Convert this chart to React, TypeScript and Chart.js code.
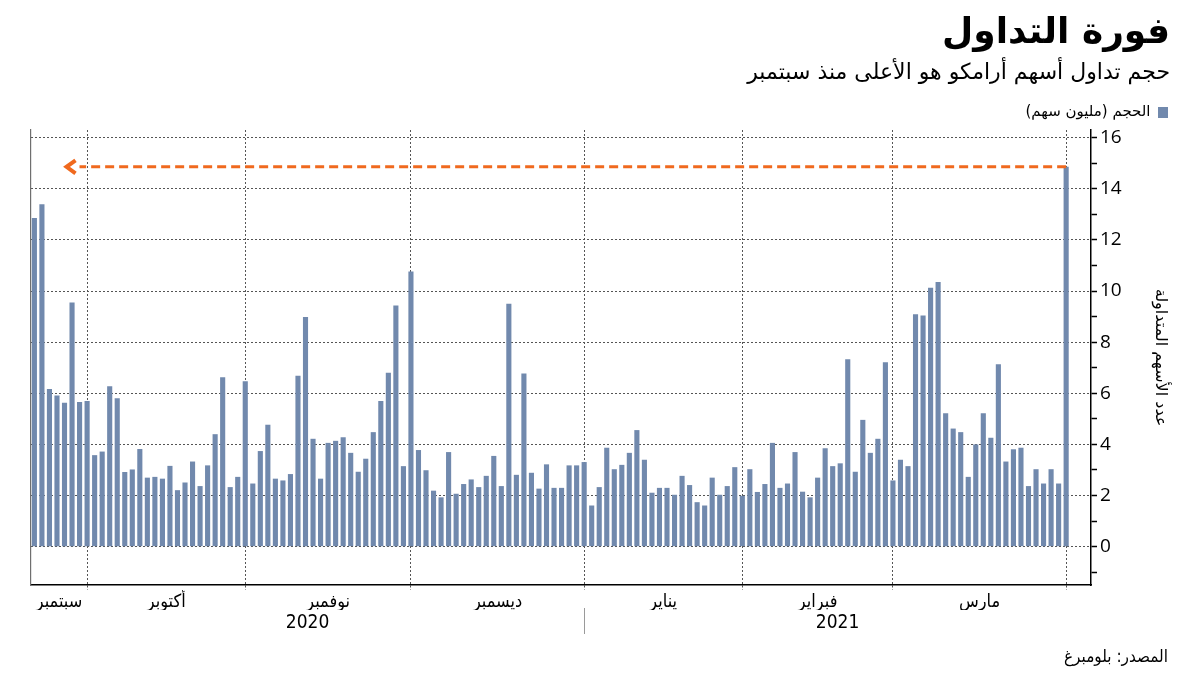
import React, { useEffect, useRef } from "react";
import { Chart, registerables } from "chart.js";

Chart.register(...registerables);

// Daily trading volume of Aramco shares (million shares), one value per trading day,
// from late September 2020 to 1 April 2021.
const VOLUMES: number[] = [
  12.86, 13.4, 6.17, 5.91, 5.63, 9.55, 5.66,
  5.7, 3.58, 3.72, 6.28, 5.81, 2.92, 3.02, 3.82, 2.7, 2.73, 2.66, 3.16, 2.21, 2.51, 3.33, 2.37, 3.18, 4.4, 6.63, 2.33, 2.73,
  6.47, 2.47, 3.74, 4.77, 2.66, 2.59, 2.84, 6.69, 8.98, 4.22, 2.66, 4.06, 4.14, 4.28, 3.67, 2.93, 3.44, 4.48, 5.7, 6.8, 9.43, 3.15,
  10.76, 3.78, 2.99, 2.19, 1.93, 3.7, 2.07, 2.45, 2.63, 2.33, 2.77, 3.55, 2.37, 9.5, 2.81, 6.77, 2.89, 2.27, 3.22, 2.3, 2.3, 3.18, 3.18,
  3.31, 1.61, 2.33, 3.87, 3.03, 3.2, 3.67, 4.56, 3.4, 2.11, 2.3, 2.3, 2.03, 2.77, 2.41, 1.74, 1.61, 2.7, 2.03, 2.37, 3.11,
  1.99, 3.03, 2.14, 2.45, 4.06, 2.3, 2.47, 3.7, 2.15, 1.93, 2.7, 3.85, 3.15, 3.26, 7.33, 2.93, 4.96, 3.67, 4.22, 7.21,
  2.59, 3.4, 3.15, 9.09, 9.04, 10.13, 10.35, 5.22, 4.62, 4.48, 2.73, 4.0, 5.22, 4.26, 7.14, 3.33, 3.81, 3.87, 2.37, 3.03, 2.47, 3.03, 2.47,
  14.86,
];

const MONTH_LABELS: string[] = ["سبتمبر", "أكتوبر", "نوفمبر", "ديسمبر", "يناير", "فبراير", "مارس"];
// index of the first trading day of Oct, Nov, Dec, Jan, Feb, Mar, Apr
const MONTH_STARTS: number[] = [7, 28, 50, 73, 94, 114, 137];
const YEAR_LABELS: string[] = ["2020", "2021"];
const YEAR_START_INDEX = 73;

const Y_TICKS: number[] = [-1, 0, 1, 2, 3, 4, 5, 6, 7, 8, 9, 10, 11, 12, 13, 14, 15, 16];
const Y_LABELED: number[] = [0, 2, 4, 6, 8, 10, 12, 14, 16];

const X_MIN = -0.45;
const X_MAX = 140.3;
const Y_MIN = -1.5;
const Y_MAX = 16.3;
const ARROW_TIP_INDEX = 4;

const TITLE = "فورة التداول";
const SUBTITLE = "حجم تداول أسهم أرامكو هو الأعلى منذ سبتمبر";
const SERIES_LABEL = "الحجم (مليون سهم)";
const Y_TITLE = "عدد الأسهم المتداولة";
const SOURCE = "المصدر: بلومبرغ";

const BAR_COLOR = "#7189AD";
const ARROW_COLOR = "#F0691E";
const AR_FONT = "'DejaVu Sans', sans-serif";
const AR_COND = "'DejaVu Sans Condensed', 'DejaVu Sans', sans-serif";

const monthBounds = [X_MIN, ...MONTH_STARTS];
const MONTH_POS = MONTH_LABELS.map((_, i) => (monthBounds[i] + monthBounds[i + 1]) / 2);
const YEAR_POS = [(X_MIN + YEAR_START_INDEX) / 2, (YEAR_START_INDEX + X_MAX) / 2];

const overlayPlugin = {
  id: "overlay",
  afterDatasetsDraw(chart: any) {
    const { ctx, scales } = chart;
    const x = scales.x;
    const y = scales.y;
    const last = VOLUMES.length - 1;
    const py = y.getPixelForValue(VOLUMES[last]);
    const x0 = x.getPixelForValue(last);
    const x1 = x.getPixelForValue(ARROW_TIP_INDEX);
    ctx.save();
    ctx.strokeStyle = ARROW_COLOR;
    ctx.lineWidth = 3;
    ctx.setLineDash([9, 5]);
    ctx.beginPath();
    ctx.moveTo(x0, py);
    ctx.lineTo(x1 + 15, py);
    ctx.stroke();
    ctx.setLineDash([]);
    ctx.lineWidth = 4;
    ctx.lineJoin = "miter";
    ctx.beginPath();
    ctx.moveTo(x1 + 11, py - 6.5);
    ctx.lineTo(x1 + 2, py);
    ctx.lineTo(x1 + 11, py + 6.5);
    ctx.stroke();
    ctx.restore();
  },
  afterDraw(chart: any) {
    const { ctx, scales } = chart;
    const xy = scales.xy;
    const px = Math.round(scales.x.getPixelForValue(YEAR_START_INDEX)) + 0.5;
    ctx.save();
    ctx.strokeStyle = "#9a9a9a";
    ctx.lineWidth = 1;
    ctx.beginPath();
    ctx.moveTo(px, xy.top - 2);
    ctx.lineTo(px, xy.bottom);
    ctx.stroke();
    ctx.restore();
  },
};

export default function App() {
  const canvasRef = useRef<HTMLCanvasElement | null>(null);

  useEffect(() => {
    if (!canvasRef.current) return;
    Chart.defaults.font.family = AR_FONT;
    const chart = new Chart(canvasRef.current, {
      type: "bar",
      data: {
        datasets: [
          {
            label: SERIES_LABEL,
            data: VOLUMES.map((v, i) => ({ x: i, y: v })),
            backgroundColor: BAR_COLOR,
            borderWidth: 0,
            barPercentage: 0.68,
            categoryPercentage: 1,
            xAxisID: "x",
            yAxisID: "y",
          },
        ],
      },
      plugins: [overlayPlugin],
      options: {
        animation: false,
        responsive: true,
        maintainAspectRatio: false,
        layout: { padding: { left: 31, right: 29, top: 102, bottom: 41 } },
        plugins: {
          legend: {
            position: "top",
            align: "start",
            rtl: true,
            textDirection: "rtl",
            labels: {
              boxWidth: 10,
              boxHeight: 11,
              padding: 3,
              color: "#000",
              font: { family: AR_FONT, size: 15 },
            },
          },
          tooltip: { enabled: false },
        },
        scales: {
          x: {
            type: "linear",
            position: "bottom",
            min: X_MIN,
            max: X_MAX,
            offset: false,
            afterBuildTicks: (s: any) => {
              s.ticks = MONTH_STARTS.map((v) => ({ value: v }));
            },
            ticks: { display: false },
            grid: {
              offset: false,
              color: "#555",
              lineWidth: 1,
              drawTicks: true,
              tickLength: 5,
              tickColor: "#555",
              tickBorderDash: [2, 2],
            },
            border: { display: true, color: "#000", width: 1.5, dash: [2, 2] },
            afterFit: (s: any) => {
              s.height = 5;
            },
          },
          xm: {
            type: "linear",
            position: "bottom",
            min: X_MIN,
            max: X_MAX,
            offset: false,
            afterBuildTicks: (s: any) => {
              s.ticks = MONTH_POS.map((v) => ({ value: v }));
            },
            ticks: {
              autoSkip: false,
              maxRotation: 0,
              padding: 2,
              color: "#000",
              font: { family: AR_COND, size: 18 },
              callback: (_v: any, i: number) => MONTH_LABELS[i],
            },
            grid: { display: false, drawTicks: false, drawOnChartArea: false },
            border: { display: false },
            afterFit: (s: any) => {
              s.height = 20;
            },
          },
          xy: {
            type: "linear",
            position: "bottom",
            min: X_MIN,
            max: X_MAX,
            offset: false,
            afterBuildTicks: (s: any) => {
              s.ticks = YEAR_POS.map((v) => ({ value: v }));
            },
            ticks: {
              autoSkip: false,
              maxRotation: 0,
              padding: 2,
              color: "#000",
              font: { family: AR_COND, size: 19 },
              callback: (_v: any, i: number) => YEAR_LABELS[i],
            },
            grid: { display: false, drawTicks: false, drawOnChartArea: false },
            border: { display: false },
            afterFit: (s: any) => {
              s.height = 24;
            },
          },
          yl: {
            type: "linear",
            position: "left",
            display: true,
            ticks: { display: false },
            grid: { display: false, drawTicks: false, drawOnChartArea: false },
            border: { display: true, color: "#6f6f6f", width: 1.2 },
          },
          y: {
            type: "linear",
            position: "right",
            min: Y_MIN,
            max: Y_MAX,
            afterBuildTicks: (s: any) => {
              s.ticks = Y_TICKS.map((v) => ({ value: v }));
            },
            ticks: {
              autoSkip: false,
              padding: 3,
              color: "#000",
              font: { family: "'Open Sans', sans-serif", size: 19 },
              callback: (v: any) => (Y_LABELED.includes(Number(v)) ? String(v) : ""),
            },
            grid: {
              color: (c: any) =>
                c.tick && Y_LABELED.includes(c.tick.value) ? "#555" : "rgba(0,0,0,0)",
              lineWidth: 1,
              tickLength: 6,
              tickColor: "#000",
              tickWidth: 1.5,
            },
            border: { display: true, color: "#000", width: 1.5, dash: [2, 2] },
            title: {
              display: true,
              text: Y_TITLE,
              color: "#000",
              font: { family: AR_FONT, size: 16 },
              padding: { top: 1, bottom: 0 },
            },
            afterFit: (s: any) => {
              s.width = 80;
            },
          },
        },
      } as any,
    });
    return () => chart.destroy();
  }, []);

  return (
    <div
      style={{
        position: "fixed",
        left: 0,
        top: 0,
        width: 1200,
        height: 675,
        background: "#fff",
        overflow: "hidden",
      }}
    >
      <div style={{ position: "absolute", left: 0, top: 0, width: 1200, height: 675 }}>
        <canvas ref={canvasRef} />
      </div>
      <div
        dir="rtl"
        style={{
          position: "absolute",
          right: 30,
          top: 9,
          fontFamily: AR_FONT,
          fontWeight: 700,
          fontSize: 36,
          lineHeight: "44px",
          color: "#000",
          whiteSpace: "nowrap",
        }}
      >
        {TITLE}
      </div>
      <div
        dir="rtl"
        style={{
          position: "absolute",
          right: 30,
          top: 58,
          fontFamily: AR_FONT,
          fontSize: 22,
          lineHeight: "28px",
          color: "#000",
          whiteSpace: "nowrap",
        }}
      >
        {SUBTITLE}
      </div>
      <div
        dir="rtl"
        style={{
          position: "absolute",
          right: 32,
          top: 645,
          fontFamily: AR_COND,
          fontSize: 17,
          lineHeight: "22px",
          color: "#000",
          whiteSpace: "nowrap",
        }}
      >
        {SOURCE}
      </div>
    </div>
  );
}
